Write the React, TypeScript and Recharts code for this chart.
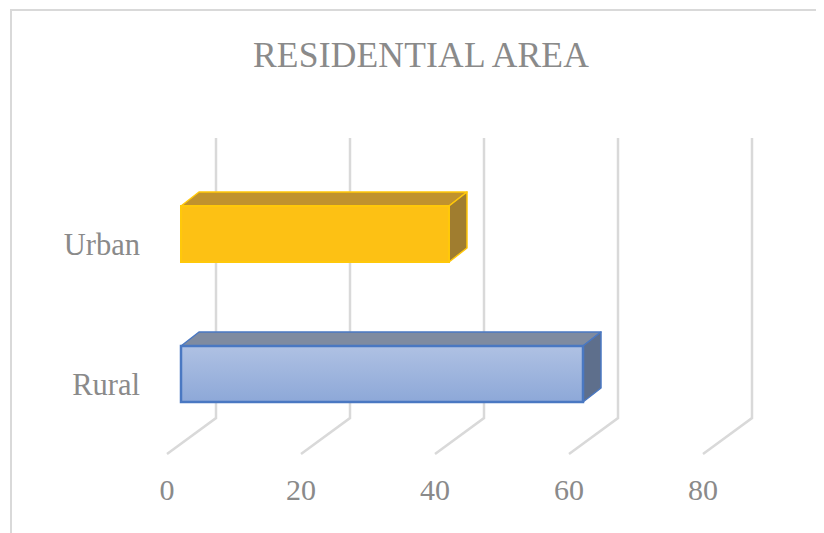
import React from 'react'
import { BarChart, Bar, XAxis, YAxis, CartesianGrid } from 'recharts'

// ─── data ─────────────────────────────────────────
const categories = ['Urban', 'Rural']
const values = [40, 60]
const xTicks = [0, 20, 40, 60, 80]

const data = categories.map((name, i) => ({ name, value: values[i] }))

const FONT = '"Liberation Serif", "Times New Roman", serif'
const TEXT = '#8a8a8a'
const GRID = '#d9d9d9'

// 3D depth of the bars / floor
const DX = 18
const DY = 14

const BAR_STYLES: Record<string, { front: string; top: string; side: string; stroke: string; sw: number }> = {
  Urban: { front: '#fdc114', top: '#c0922e', side: '#a07d2f', stroke: '#ffc80a', sw: 2 },
  Rural: { front: 'url(#ruralFront)', top: '#7f8ba0', side: '#5e6f8c', stroke: '#4a78c2', sw: 2.5 },
}

function Bar3D(props: any) {
  const { x, y, width, height, payload } = props
  const s = BAR_STYLES[payload.name]
  const w = width
  const h = height
  return (
    <g>
      <polygon
        points={`${x},${y} ${x + DX},${y - DY} ${x + w + DX},${y - DY} ${x + w},${y}`}
        fill={s.top}
        stroke={s.stroke}
        strokeWidth={1.5}
        strokeLinejoin="round"
      />
      <polygon
        points={`${x + w},${y} ${x + w + DX},${y - DY} ${x + w + DX},${y + h - DY} ${x + w},${y + h}`}
        fill={s.side}
        stroke={s.stroke}
        strokeWidth={1.5}
        strokeLinejoin="round"
      />
      <rect x={x} y={y} width={w} height={h} fill={s.front} stroke={s.stroke} strokeWidth={s.sw} />
    </g>
  )
}

// back wall line + floor diagonal for each value tick
function WallLine(props: any) {
  const { x1, index } = props
  return (
    <path
      key={`wall-${index}`}
      d={`M${x1 + 35},130 V410 L${x1 - 14},446`}
      fill="none"
      stroke={GRID}
      strokeWidth={2.5}
    />
  )
}

function ValueTick(props: any) {
  const { x, payload } = props
  return (
    <text x={x - 14} y={492} textAnchor="middle" fill={TEXT} fontSize={30} fontFamily={FONT}>
      {payload.value}
    </text>
  )
}

function CategoryTick(props: any) {
  const { y, payload } = props
  return (
    <text x={132} y={y + 21} textAnchor="end" fill={TEXT} fontSize={30.5} fontFamily={FONT}>
      {payload.value}
    </text>
  )
}

export default function App() {
  return (
    <div style={{ position: 'relative', width: 816, height: 525 }}>
      <div
        style={{
          position: 'absolute',
          left: 2,
          top: 1,
          width: 814,
          height: 524,
          borderLeft: `2px solid ${GRID}`,
          borderTop: `2px solid ${GRID}`,
          boxSizing: 'border-box',
        }}
      />
      <BarChart
        width={816}
        height={525}
        data={data}
        layout="vertical"
        margin={{ top: 156, right: 107, left: 0, bottom: 29 }}
        style={{ position: 'absolute', left: 0, top: 0 }}
      >
        <defs>
          <linearGradient id="ruralFront" x1="0" y1="0" x2="0" y2="1">
            <stop offset="0%" stopColor="#afc1e3" />
            <stop offset="100%" stopColor="#8da8d8" />
          </linearGradient>
        </defs>
        <text x={413} y={59} textAnchor="middle" fill={TEXT} fontSize={35.5} fontFamily={FONT} letterSpacing={0.2}>
          RESIDENTIAL AREA
        </text>
        <CartesianGrid horizontal={false} vertical={WallLine} />
        <XAxis
          type="number"
          domain={[0, 80]}
          ticks={xTicks}
          axisLine={false}
          tickLine={false}
          height={60}
          tick={ValueTick}
          interval={0}
        />
        <YAxis
          type="category"
          dataKey="name"
          width={173}
          axisLine={false}
          tickLine={false}
          tick={CategoryTick}
        />
        <Bar dataKey="value" barSize={56} shape={Bar3D} isAnimationActive={false} />
      </BarChart>
    </div>
  )
}
